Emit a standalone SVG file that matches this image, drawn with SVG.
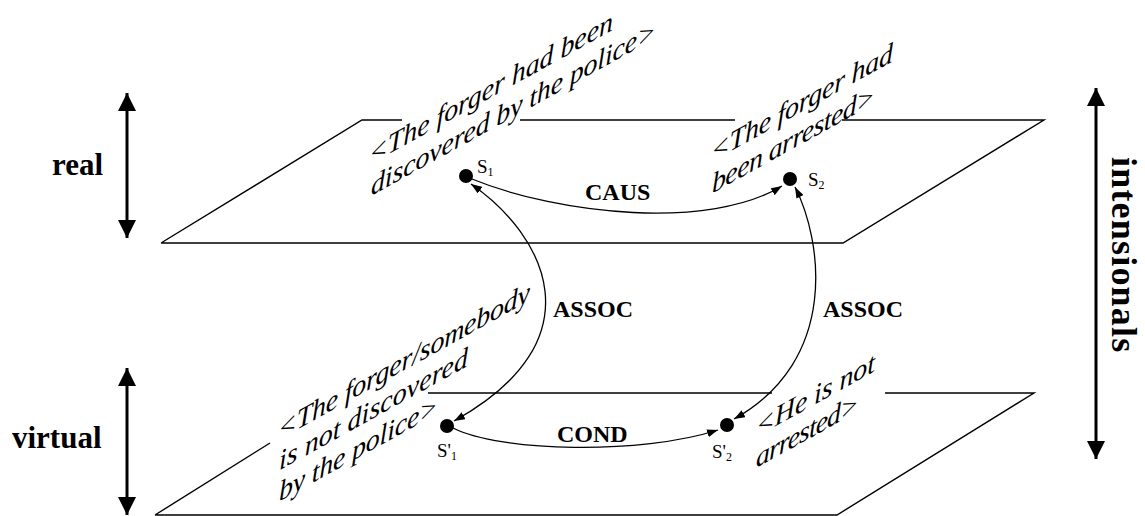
<svg xmlns="http://www.w3.org/2000/svg" width="1145" height="516" viewBox="0 0 1145 516">
<defs>
<style>
.pl{stroke:#000;stroke-width:1.4;fill:none}
.cv{stroke:#000;stroke-width:1.3;fill:none}
.ax{stroke:#000;stroke-width:3;fill:none}
.it{font-family:"Liberation Serif","Times New Roman",serif;font-style:italic;font-size:28px;fill:#000}
.bd{font-family:"Liberation Serif","Times New Roman",serif;font-weight:bold;fill:#000}
.nl{font-family:"Liberation Serif","Times New Roman",serif;font-size:19px;fill:#000}
.sb{font-size:12px}
</style>
<marker id="big" markerUnits="userSpaceOnUse" markerWidth="18" markerHeight="18" refX="18" refY="9" orient="auto-start-reverse" viewBox="0 0 18 18">
<path d="M0,0 L18,9 L0,18 z" fill="#000"/>
</marker>
<marker id="sm" markerUnits="userSpaceOnUse" markerWidth="11" markerHeight="8" refX="11" refY="4" orient="auto-start-reverse" viewBox="0 0 11 8">
<path d="M0,0 L11,4 L0,8 z" fill="#000"/>
</marker>
</defs>

<g id="plane-real">
<path class="pl" d="M161,243 L362,120 L402,120 M520,120 L735,120 M842,120 L1044,120 L843,243 L161,243"/>
</g>
<g id="plane-virtual">
<path class="pl" d="M155,515 L270,443 M428,393 L772,393 M885,393 L1034,393 L837,515 L155,515"/>
</g>

<g id="axis-real">
<line class="ax" x1="127" y1="93" x2="127" y2="238" marker-start="url(#big)" marker-end="url(#big)"/>
<text class="bd" x="52" y="175" font-size="31">real</text>
</g>
<g id="axis-virtual">
<line class="ax" x1="127" y1="368" x2="127" y2="515" marker-start="url(#big)" marker-end="url(#big)"/>
<text class="bd" x="12" y="448" font-size="31">virtual</text>
</g>
<g id="axis-intensionals">
<line class="ax" x1="1096" y1="88" x2="1096" y2="459" marker-start="url(#big)" marker-end="url(#big)"/>
<text class="bd" font-size="36" letter-spacing="1.2" transform="translate(1112,157) rotate(90)">intensionals</text>
</g>

<g id="connectors">
<path class="cv" d="M472,179 C560,215 710,230 782,186" marker-end="url(#sm)"/>
<path class="cv" d="M471,184 C545,235 600,340 454,421" marker-start="url(#sm)" marker-end="url(#sm)"/>
<path class="cv" d="M795,187 C822,240 840,360 734,419" marker-start="url(#sm)" marker-end="url(#sm)"/>
<path class="cv" d="M453,428 C500,452 640,455 718,430" marker-end="url(#sm)"/>
<text class="bd" x="585" y="200" font-size="24">CAUS</text>
<text class="bd" x="553" y="317" font-size="24">ASSOC</text>
<text class="bd" x="823" y="317" font-size="24">ASSOC</text>
<text class="bd" x="557" y="442" font-size="24">COND</text>
</g>

<g id="node-s1">
<circle cx="466" cy="176" r="7" fill="#000"/>
<text class="nl" x="477" y="173">S<tspan class="sb" dy="3">1</tspan></text>
<g transform="translate(369,165) skewY(-29)">
<text class="it" x="0" y="0" textLength="244">&lt;The forger had been</text>
<text class="it" x="2" y="32" textLength="285">discovered by the police&gt;</text>
</g>
</g>
<g id="node-s2">
<circle cx="790" cy="179" r="7" fill="#000"/>
<text class="nl" x="808" y="186">S<tspan class="sb" dy="3">2</tspan></text>
<g transform="translate(711,162) skewY(-29)">
<text class="it" x="0" y="0" textLength="182">&lt;The forger had</text>
<text class="it" x="1" y="32" textLength="163">been arrested&gt;</text>
</g>
</g>
<g id="node-s1p">
<circle cx="447" cy="426" r="7" fill="#000"/>
<text class="nl" x="437" y="457">S'<tspan class="sb" dy="3">1</tspan></text>
<g transform="translate(278,440) skewY(-29)">
<text class="it" x="0" y="0" textLength="252">&lt;The forger/somebody</text>
<text class="it" x="1" y="31" textLength="189">is not discovered</text>
<text class="it" x="1" y="62" textLength="159">by the police&gt;</text>
</g>
</g>
<g id="node-s2p">
<circle cx="727" cy="425" r="7" fill="#000"/>
<text class="nl" x="712" y="458">S'<tspan class="sb" dy="3">2</tspan></text>
<g transform="translate(756,437) skewY(-29)">
<text class="it" x="0" y="0" textLength="119">&lt;He is not</text>
<text class="it" x="0" y="31" textLength="103">arrested&gt;</text>
</g>
</g>
</svg>
